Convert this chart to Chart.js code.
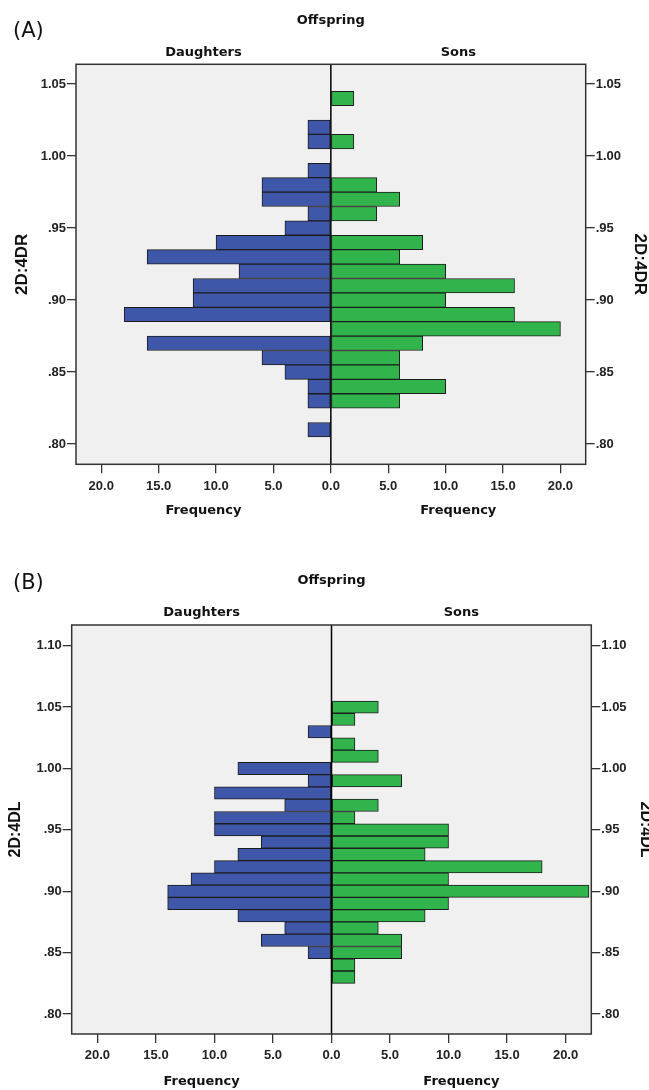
<!DOCTYPE html>
<html><head><meta charset="utf-8">
<script src="https://cdn.jsdelivr.net/npm/chart.js@4.4.0/dist/chart.umd.min.js"></script>
<style>
html,body{margin:0;padding:0;background:#fff;}
#wrap{position:relative;width:649px;height:1090px;overflow:hidden;}
canvas{position:absolute;left:0;}
</style></head><body>
<div id="wrap">
<canvas id="cA" width="649" height="545" style="top:0"></canvas>
<canvas id="cB" width="649" height="545" style="top:545px"></canvas>
</div>
<script>
// ---- Data ----
const binsA      = [1.04,1.03,1.02,1.01,1.00,0.99,0.98,0.97,0.96,0.95,0.94,0.93,0.92,0.91,0.90,0.89,0.88,0.87,0.86,0.85,0.84,0.83,0.82,0.81];
const daughtersA = [0,   0,   2,   2,   0,   2,   6,   6,   2,   4,   10,  16,  8,   12,  12,  18,  0,   16,  6,   4,   2,   2,   0,   2];
const sonsA      = [2,   0,   0,   2,   0,   0,   4,   6,   4,   0,   8,   6,   10,  16,  10,  16,  20,  8,   6,   6,   10,  6,   0,   0];
const yTicksA    = [0.80,0.85,0.90,0.95,1.00,1.05];

const binsB      = [1.05,1.04,1.03,1.02,1.01,1.00,0.99,0.98,0.97,0.96,0.95,0.94,0.93,0.92,0.91,0.90,0.89,0.88,0.87,0.86,0.85,0.84,0.83];
const daughtersB = [0,   0,   2,   0,   0,   8,   2,   10,  4,   10,  10,  6,   8,   10,  12,  14,  14,  8,   4,   6,   2,   0,   0];
const sonsB      = [4,   2,   0,   2,   4,   0,   6,   0,   4,   2,   10,  10,  8,   18,  10,  22,  10,  8,   4,   6,   6,   2,   2];
const yTicksB    = [0.80,0.85,0.90,0.95,1.00,1.05,1.10];

const xTicks      = [-20,-15,-10,-5,0,5,10,15,20];
const groupLabels = ['Daughters','Sons'];
const superTitle  = 'Offspring';
const xTitle      = 'Frequency';

// ---- Styles ----
const BLUE = '#3E57A8', GREEN = '#31B44B', EDGE = '#1c1c1c', FRAME = '#333333';
const TICKFONT = {family: '"Liberation Sans", Arial, sans-serif', size: 13, weight: 'bold'};

const fmtY = v => v >= 1 ? v.toFixed(2) : v.toFixed(2).replace(/^0/, '');
const fmtX = v => Math.abs(v).toFixed(1);

const panelPlugin = {
  id: 'panelText',
  beforeDraw(chart) {
    const {ctx, chartArea: a} = chart;
    ctx.save();
    ctx.fillStyle = '#F0F0F0';
    ctx.fillRect(a.left, a.top, a.right - a.left, a.bottom - a.top);
    ctx.restore();
  },
  afterDatasetsDraw(chart) {
    const {ctx, chartArea: a} = chart;
    const x0 = chart.scales.x.getPixelForValue(0);
    ctx.save();
    ctx.strokeStyle = '#000'; ctx.lineWidth = 1.5;
    ctx.beginPath(); ctx.moveTo(x0, a.top); ctx.lineTo(x0, a.bottom); ctx.stroke();
    ctx.strokeStyle = FRAME; ctx.lineWidth = 1.5;
    ctx.strokeRect(a.left, a.top, a.right - a.left, a.bottom - a.top);
    ctx.restore();
  },
  afterDraw(chart, args, o) {
    const {ctx, chartArea: a} = chart;
    const x0 = chart.scales.x.getPixelForValue(0);
    const cl = (a.left + x0) / 2, cr = (x0 + a.right) / 2;
    ctx.save();
    ctx.fillStyle = '#111';
    ctx.textBaseline = 'alphabetic';
    ctx.font = '21px "DejaVu Sans", sans-serif';
    ctx.textAlign = 'left';
    ctx.fillText(o.label, 13, o.labelY);
    ctx.textAlign = 'center';
    ctx.font = 'bold 13px "DejaVu Sans", sans-serif';
    ctx.fillText(superTitle, (a.left + a.right) / 2, o.superY);
    ctx.fillText(groupLabels[0], cl, o.groupY);
    ctx.fillText(groupLabels[1], cr, o.groupY);
    ctx.fillText(xTitle, cl, o.freqY);
    ctx.fillText(xTitle, cr, o.freqY);
    ctx.restore();
  }
};

function build(id, bins, dau, son, yTicks, L) {
  const pts = (vals, sign) => bins.map((b, i) => ({x: sign * vals[i], y: b})).filter(p => p.x !== 0);
  const common = {borderColor: EDGE, borderWidth: 1, borderSkipped: false, grouped: false,
                  categoryPercentage: 1, barPercentage: 1};
  const yCommon = (pos, width, titlePad, titleSize) => ({
    type: 'linear', position: pos, min: L.ymin, max: L.ymax, offset: false,
    afterBuildTicks: s => { s.ticks = yTicks.map(v => ({value: v})); },
    afterFit: s => { s.width = width; },
    ticks: {callback: fmtY, font: TICKFONT, color: '#222', padding: 1},
    grid: {offset: false, drawOnChartArea: false, drawTicks: true, tickLength: 9, color: FRAME, lineWidth: 1.3},
    border: {display: false},
    title: {display: true, text: L.yTitle, color: '#111', padding: {top: titlePad, bottom: 0},
            font: {family: '"Liberation Sans", Arial, sans-serif', size: titleSize, weight: 'bold', lineHeight: 1}}
  });
  return new Chart(document.getElementById(id), {
    type: 'bar',
    data: {datasets: [
      Object.assign({label: groupLabels[0], data: pts(dau, -1), backgroundColor: BLUE}, common),
      Object.assign({label: groupLabels[1], data: pts(son, 1), backgroundColor: GREEN}, common)
    ]},
    options: {
      indexAxis: 'y', responsive: false, animation: false, events: [],
      layout: {padding: {top: L.top, left: 0, right: 0, bottom: 0}},
      plugins: {legend: {display: false}, tooltip: {enabled: false}, panelText: L},
      scales: {
        x: {type: 'linear', position: 'bottom', min: -L.xmax, max: L.xmax, offset: false,
            afterBuildTicks: s => { s.ticks = xTicks.map(v => ({value: v})); },
            afterFit: s => { s.height = L.xh; },
            ticks: {callback: fmtX, font: TICKFONT, color: '#222', padding: 5, maxRotation: 0, autoSkip: false},
            grid: {offset: false, drawOnChartArea: false, drawTicks: true, tickLength: 9, color: FRAME, lineWidth: 1.3},
            border: {display: false}},
        y: yCommon('left', L.yl, L.ylPad, L.ySize),
        y2: yCommon('right', L.yr, L.yrPad, L.ySize)
      }
    },
    plugins: [panelPlugin]
  });
}

build('cA', binsA, daughtersA, sonsA, yTicksA, {
  label: '(A)', labelY: 37, superY: 24, groupY: 56, freqY: 514,
  top: 64.3, xh: 80.7, yl: 76, yr: 63.3, ymin: 0.786, ymax: 1.0637, xmax: 22.2,
  yTitle: '2D:4DR', ylPad: 13.5, yrPad: 0.5, ySize: 17
});
build('cB', binsB, daughtersB, sonsB, yTicksB, {
  label: '(B)', labelY: 44, superY: 39, groupY: 71, freqY: 540,
  top: 80, xh: 56, yl: 71.7, yr: 57.7, ymin: 0.7837, ymax: 1.1169, xmax: 22.2,
  yTitle: '2D:4DL', ylPad: 8, yrPad: -4.5, ySize: 16
});
</script>
</body></html>
